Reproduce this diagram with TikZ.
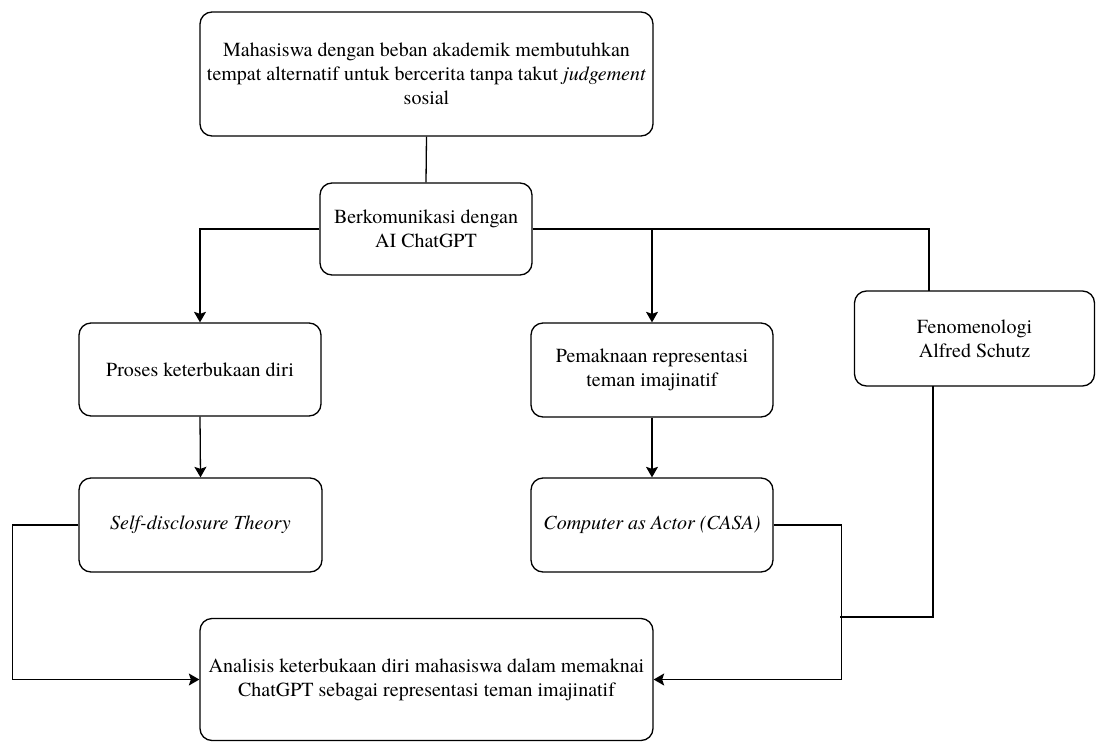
\documentclass[tikz,border=0pt]{standalone}
\usepackage{fontspec}
\setmainfont{TeX Gyre Termes}
\usetikzlibrary{arrows.meta}
\begin{document}
\begin{tikzpicture}[x=1pt,y=-1pt,
  box/.style={draw=black, line width=1.3pt, rounded corners=12pt, align=center,
    inner sep=0pt, font=\fontsize{20}{24}\selectfont},
  conn/.style={draw=black, line width=1.3pt},
  arr/.style={conn, -{Stealth[length=10.5pt,width=12pt,inset=2pt]}}]
\useasboundingbox (0,0) rectangle (1096,742);
\node[box, minimum width=453pt, minimum height=124pt] (top) at (426.5,74)
  {Mahasiswa dengan beban akademik membutuhkan\\tempat alternatif untuk bercerita tanpa takut \textit{judgement}\\sosial};
\node[box, minimum width=212pt, minimum height=92pt] (mid) at (426,229)
  {Berkomunikasi dengan\\AI ChatGPT};
\node[box, minimum width=242pt, minimum height=93pt] (proses) at (200,369.5)
  {Proses keterbukaan diri};
\node[box, minimum width=243pt, minimum height=94pt] (self) at (200.5,525)
  {\textit{Self-disclosure Theory}};
\node[box, minimum width=242pt, minimum height=94pt] (pem) at (652,370)
  {Pemaknaan representasi\\teman imajinatif};
\node[box, minimum width=242pt, minimum height=94pt] (casa) at (652,525)
  {\textit{Computer as Actor (CASA)}};
\node[box, minimum width=240pt, minimum height=95pt] (fen) at (974.5,338.5)
  {Fenomenologi\\Alfred Schutz};
\node[box, minimum width=453pt, minimum height=122pt] (bot) at (426.5,679.5)
  {Analisis keterbukaan diri mahasiswa dalam memaknai\\ChatGPT sebagai representasi teman imajinatif};
\coordinate (fenin) at (929,291);
\coordinate (fenout) at (933,386);
\coordinate (join) at (840,617);
\draw[conn] (top.south) -- (mid.north);
\draw[arr] (mid.west) -| (proses.north);
\draw[conn] (mid.east) -| (fenin);
\draw[arr] (mid.east -| pem.north) -- (pem.north);
\draw[arr] (proses.south) -- (self.north);
\draw[arr] (pem.south) -- (casa.north);
\draw[arr] (self.west) -- ++(-66,0) |- (bot.west);
\draw[arr] (casa.east) -- ++(68,0) |- (bot.east);
\draw[conn] (fenout) |- (join);
\end{tikzpicture}
\end{document}
